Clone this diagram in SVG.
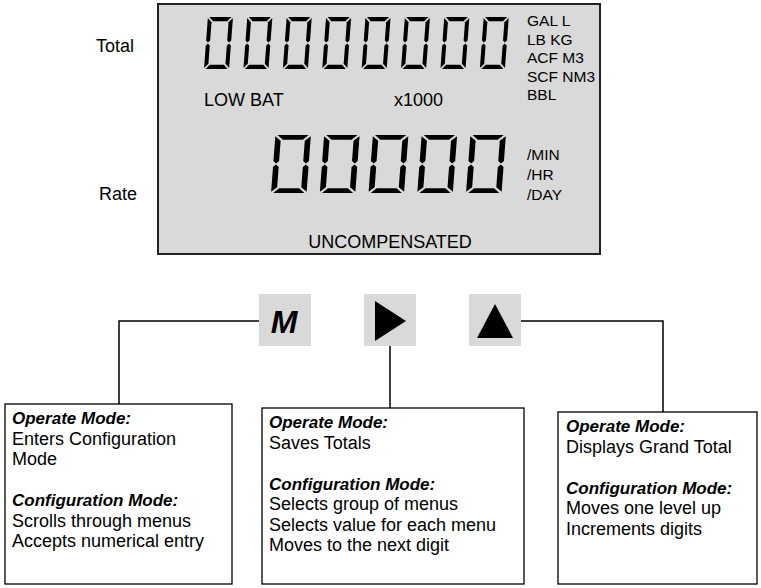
<svg xmlns="http://www.w3.org/2000/svg" xmlns:xlink="http://www.w3.org/1999/xlink" width="761" height="588" viewBox="0 0 761 588">
<style>
text{font-family:"Liberation Sans",Arial,sans-serif;fill:#000}
.lcdt{font-size:18px}
.unit{font-size:15.5px}
.bt{font-size:18px}
.bh{font-size:17px;font-weight:bold;font-style:italic}
.box{fill:#fff;stroke:#000;stroke-width:1.3}
.btn{fill:#d9d9d9}
.conn{fill:none;stroke:#000;stroke-width:1.5}
.seg{fill:#000}
</style>
<defs>
<g id="d0" class="seg">
<polygon points="3,0 47,0 39,8 11,8"/>
<polygon points="11,92 39,92 47,100 3,100"/>
<polygon points="0,2 8,10 8,45 4,49 0,45"/>
<polygon points="0,55 4,51 8,55 8,90 0,98"/>
<polygon points="50,2 42,10 42,45 46,49 50,45"/>
<polygon points="50,55 46,51 42,55 42,90 50,98"/>
</g>
</defs>
<rect width="761" height="588" fill="#fff"/>
<g id="side-labels">
<text class="lcdt" x="134" y="52" text-anchor="end">Total</text>
<text class="lcdt" x="137" y="200" text-anchor="end">Rate</text>
</g>
<g id="lcd">
<rect x="158" y="4" width="442" height="250" fill="#d9d9d9" stroke="#222" stroke-width="2"/>
<g id="total-digits">
<use xlink:href="#d0" transform="translate(207.9,17) skewX(-4.3) scale(0.502,0.52)"/>
<use xlink:href="#d0" transform="translate(247.3,17) skewX(-4.3) scale(0.502,0.52)"/>
<use xlink:href="#d0" transform="translate(286.7,17) skewX(-4.3) scale(0.502,0.52)"/>
<use xlink:href="#d0" transform="translate(326.1,17) skewX(-4.3) scale(0.502,0.52)"/>
<use xlink:href="#d0" transform="translate(365.5,17) skewX(-4.3) scale(0.502,0.52)"/>
<use xlink:href="#d0" transform="translate(404.9,17) skewX(-4.3) scale(0.502,0.52)"/>
<use xlink:href="#d0" transform="translate(444.3,17) skewX(-4.3) scale(0.502,0.52)"/>
<use xlink:href="#d0" transform="translate(483.7,17) skewX(-4.3) scale(0.502,0.52)"/>
</g>
<g id="rate-digits">
<use xlink:href="#d0" transform="translate(275.4,135) skewX(-4.3) scale(0.71,0.58)"/>
<use xlink:href="#d0" transform="translate(324.15,135) skewX(-4.3) scale(0.71,0.58)"/>
<use xlink:href="#d0" transform="translate(372.9,135) skewX(-4.3) scale(0.71,0.58)"/>
<use xlink:href="#d0" transform="translate(421.65,135) skewX(-4.3) scale(0.71,0.58)"/>
<use xlink:href="#d0" transform="translate(470.4,135) skewX(-4.3) scale(0.71,0.58)"/>
</g>
<text class="unit" x="527" y="26">GAL L</text>
<text class="unit" x="527" y="44.5">LB KG</text>
<text class="unit" x="527" y="63">ACF M3</text>
<text class="unit" x="527" y="81.5">SCF NM3</text>
<text class="unit" x="527" y="100">BBL</text>
<text class="lcdt" x="204" y="106">LOW BAT</text>
<text class="lcdt" x="394" y="106">x1000</text>
<text class="unit" x="527" y="160">/MIN</text>
<text class="unit" x="527" y="180">/HR</text>
<text class="unit" x="527" y="200">/DAY</text>
<text class="lcdt" x="390" y="248" text-anchor="middle">UNCOMPENSATED</text>
</g>
<g id="connectors">
<polyline class="conn" points="259,321 119,321 119,404"/>
<line class="conn" x1="390" y1="346" x2="390" y2="408"/>
<polyline class="conn" points="521,321 663,321 663,412"/>
</g>
<g id="btn-m">
<rect class="btn" x="259" y="294" width="52" height="52"/>
<text x="284" y="333" text-anchor="middle" style="font-size:32px;font-weight:bold;font-style:italic">M</text>
</g>
<g id="btn-next">
<rect class="btn" x="364" y="294" width="52" height="52"/>
<polygon points="375,301 406,321 375,341" fill="#000"/>
</g>
<g id="btn-up">
<rect class="btn" x="469" y="294" width="52" height="52"/>
<polygon points="477,338 513,338 495,304" fill="#000"/>
</g>
<g id="box-m">
<rect class="box" x="5" y="404" width="227" height="180"/>
<text class="bh" x="12" y="424">Operate Mode:</text>
<text class="bt" x="12" y="444.5">Enters Configuration</text>
<text class="bt" x="12" y="465">Mode</text>
<text class="bh" x="12" y="506">Configuration Mode:</text>
<text class="bt" x="12" y="526.5">Scrolls through menus</text>
<text class="bt" x="12" y="547">Accepts numerical entry</text>
</g>
<g id="box-next">
<rect class="box" x="262" y="408" width="262" height="176"/>
<text class="bh" x="269" y="428">Operate Mode:</text>
<text class="bt" x="269" y="448.5">Saves Totals</text>
<text class="bh" x="269" y="489.5">Configuration Mode:</text>
<text class="bt" x="269" y="510">Selects group of menus</text>
<text class="bt" x="269" y="530.5">Selects value for each menu</text>
<text class="bt" x="269" y="551">Moves to the next digit</text>
</g>
<g id="box-up">
<rect class="box" x="558" y="412" width="199" height="172"/>
<text class="bh" x="566" y="432">Operate Mode:</text>
<text class="bt" x="566" y="452.5">Displays Grand Total</text>
<text class="bh" x="566" y="493.5">Configuration Mode:</text>
<text class="bt" x="566" y="514">Moves one level up</text>
<text class="bt" x="566" y="534.5">Increments digits</text>
</g>
</svg>
